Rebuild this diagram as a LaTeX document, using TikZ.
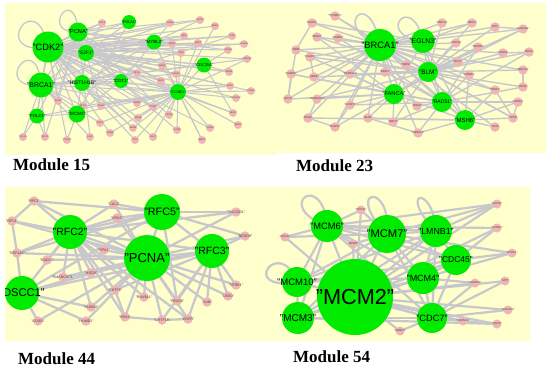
\documentclass[tikz,border=0pt]{standalone}
\usepackage{fontspec}
\setmainfont{Liberation Serif}
\setsansfont{Liberation Sans}
\definecolor{ybg}{RGB}{255,255,204}
\definecolor{gfill}{RGB}{0,235,0}
\definecolor{pfill}{RGB}{240,180,180}
\definecolor{egrey}{RGB}{200,200,204}
\definecolor{lgrey}{RGB}{70,70,70}
\newcommand\pinksA{a1/102/23/CDC6, a2/170/23/CCNB1, a3/200/20/CDC20, a4/215/26/BUB1, a5/184/36/RB1, a6/172/44/MCM2, a7/198/43/CDK1, a8/232/36/PLK1, a9/244/44/AURKA, a10/228/50/CCNA2, a11/181/53/TP53, a12/247/59/CDKN1A, a13/162/66/CHEK1, a14/176/74/CDC45, a15/229/72/MCM4, a16/161/81/ORC1, a17/137/73/RFC4, a18/230/86/E2F2, a19/251/91/CCND1, a20/236/98/CDKN2A, a21/137/103/RRM2, a22/153/107/TYMS, a23/169/115/TOP2A, a24/233/113/MCM7, a25/238/125/MKI67, a26/210/128/CCNE2, a27/133/128/MCM5, a28/138/118/MCM6, a29/177/130/GINS2, a30/153/137/CDC7, a31/202/140/WEE1, a32/135/140/DTL, a33/58/101/FEN1, a34/83/106/RFC2, a35/101/106/POLE, a36/100/123/RPA1, a37/110/133/PRIM1, a38/90/137/LIG1, a39/67/140/POLA2, a40/45/137/RFC3, a41/23/137/RFC5}
\newcommand\pinksB{b1/335/16/TP53BP1, b2/312/23/PARP1, b3/317/37/MSH2, b4/338/38/SUMO1, b5/296/50/NBN, b6/310/57/H2AFX, b7/291/74/SUMO2, b8/314/77/UBE2I, b9/350/74/RAD51L3, b10/385/72/BRIP1, b11/406/65/WRN, b12/288/99/ATRX, b13/317/99/HSP90AA1, b14/350/105/CASP3, b15/308/118/RPA3, b16/335/127/RAD50, b17/368/118/MLH1, b18/393/122/SMC3, b19/417/106/RNF8, b20/418/133/MRE11A, b21/442/23/SMC1A, b22/472/23/MDC1, b23/495/27/ATR, b24/523/29/FANCD2, b25/456/43/TOP2A, b26/478/47/TOPBP1, b27/503/53/TERF2, b28/529/52/RPA1, b29/458/62/RFC1, b30/469/75/SUMO3, b31/523/70/BRCC3, b32/523/87/RPA2, b33/495/90/TERF1, b34/518/102/CHEK1, b35/513/118/TP53, b36/495/127/ATM}
\newcommand\pinksC{c1/34/201/RFC1, c2/114/204/CUL3, c3/12/221/RFC4, c4/117/218/RPA2, c5/236/212/TSC22D1, c6/245/236/NEDD8, c7/17/253/EEF1A1, c8/47/260/RAD17, c9/104/250/RPA1, c10/63/277/SMARCAD1, c11/91/273/HSCB, c12/115/290/CHTF8, c13/144/297/RUVBL1, c14/177/301/FBXO6, c15/207/302/JUN, c16/228/296/LRDD, c17/236/285/NTRK1, c18/91/307/SUMO2, c19/86/321/HUWE1, c20/38/321/ATAD5, c21/125/317/RPA3, c22/162/320/CHTF18, c23/188/319/EGFR}
\newcommand\pinksD{d1/361/210/ORC3L, d2/497/204/ORC2L, d3/285/237/ORC4L, d4/353/244/MCM8, d5/497/228/CCND1, d6/512/253/NTRK1, d7/505/281/APP, d8/475/283/CDKN2A, d9/508/310/GOLGA2, d10/463/321/CDKN1A, d11/497/324/CDC6, d12/400/331/RBBP4}
\begin{document}
\begin{tikzpicture}[x=1pt,y=-1pt,
  edge/.style={draw=egrey, line width=#1},
  edge/.default=1pt,
  gn/.style={circle, fill=gfill, inner sep=0pt, minimum size=#1},
  pn/.style={circle, fill=pfill, inner sep=0pt, minimum size=#1},
  glab/.style={font=\sffamily\fontsize{#1}{#1}\selectfont, text=black, inner sep=0pt},
  plab/.style={font=\sffamily\fontsize{#1}{#1}\selectfont, text=lgrey, inner sep=0pt},
  modlab/.style={font=\bfseries\fontsize{17}{17}\selectfont, anchor=base west, inner sep=0pt}]
\useasboundingbox (0,0) rectangle (550,368);

% ---------------- Module 15 ----------------
\begin{scope}
\clip (5,3) rectangle (277,155);
\fill[ybg] (5,3) rectangle (277,155);
\foreach \nm/\x/\y in {aCDK2/48/47, aPCNA/78/32, aE2F1/86/53, aPOLA1/129/22, aMYBL2/154/42, aCDC25A/204/65, aBRCA1/41/85, aHIST/82/83, aCDT1/121/81, aCCNE1/178/92, aPOLD1/37/116, aMCM3/77/114}
  \coordinate (\nm) at (\x,\y);
\foreach \nm/\x/\y/\lab in \pinksA \coordinate (\nm) at (\x,\y);
\foreach \a/\b in {aCDK2/aPCNA, aCDK2/aE2F1, aCDK2/aBRCA1, aCDK2/aHIST, aCDK2/aCDT1, aCDK2/aCCNE1, aCDK2/aMYBL2, aCDK2/aCDC25A, aCDK2/aPOLA1, aCDK2/aPOLD1, aCDK2/aMCM3, aPCNA/aE2F1, aPCNA/aBRCA1, aPCNA/aPOLD1, aPCNA/aCDT1, aPCNA/aCCNE1, aPCNA/aMYBL2, aPCNA/aPOLA1, aE2F1/aCCNE1, aE2F1/aMYBL2, aE2F1/aCDC25A, aE2F1/aBRCA1, aE2F1/aHIST, aE2F1/aCDT1, aE2F1/aMCM3, aBRCA1/aHIST, aBRCA1/aCCNE1, aBRCA1/aPOLD1, aBRCA1/aMCM3, aBRCA1/aCDT1, aHIST/aCCNE1, aHIST/aCDT1, aCDT1/aCCNE1, aMCM3/aCDT1, aMCM3/aCCNE1, aPOLD1/aMCM3, aMYBL2/aCCNE1, aCDC25A/aCCNE1, aPOLA1/aMCM3, aPOLA1/aE2F1, aMYBL2/aBRCA1, aCDC25A/aBRCA1, aHIST/aMYBL2, aCDT1/aMYBL2, aPOLD1/aCCNE1}
  \draw[edge=1.1pt] (\a) -- (\b);
\foreach \p/\gl in {a1/{aPCNA,aCDK2,aE2F1}, a2/{aCDK2,aMYBL2,aE2F1}, a3/{aCDK2,aMYBL2,aPCNA}, a4/{aCDK2,aCCNE1}, a5/{aCDK2,aE2F1}, a6/{aCDK2,aMYBL2,aCCNE1}, a7/{aCDK2,aCCNE1,aE2F1}, a8/{aCDK2,aMYBL2,aHIST}, a9/{aCDK2,aE2F1}, a10/{aCDK2,aCDC25A,aPCNA}, a11/{aCDK2,aPCNA,aCCNE1}, a12/{aCCNE1,aCDK2,aBRCA1}, a13/{aCDK2,aE2F1,aCCNE1}, a14/{aCDK2,aCCNE1,aBRCA1}, a15/{aCDC25A,aCDK2,aE2F1}, a16/{aCDK2,aCCNE1,aPCNA}, a17/{aCDK2,aBRCA1,aE2F1}, a18/{aCCNE1,aCDK2,aHIST}, a19/{aCCNE1,aE2F1}, a20/{aCCNE1,aCDK2}, a21/{aCDK2,aCCNE1,aBRCA1}, a22/{aCCNE1,aE2F1,aCDK2}, a23/{aCCNE1,aPCNA}, a24/{aCCNE1,aCDC25A,aCDK2}, a25/{aCCNE1}, a26/{aCCNE1,aCDK2}, a27/{aCCNE1,aCDK2,aHIST}, a28/{aCDK2,aCCNE1}, a29/{aCCNE1,aE2F1}, a30/{aCCNE1,aCDK2}, a31/{aCCNE1,aMYBL2}, a32/{aCDK2,aCCNE1}, a33/{aCDK2,aBRCA1,aPCNA}, a34/{aCDK2,aBRCA1,aCCNE1}, a35/{aCDK2,aE2F1,aCCNE1}, a36/{aBRCA1,aCCNE1}, a37/{aCDK2,aCCNE1}, a38/{aPCNA,aBRCA1}, a39/{aCDK2,aMCM3}, a40/{aPCNA,aBRCA1,aPOLD1}, a41/{aPOLD1,aBRCA1}}
  {\foreach \g in \gl {\draw[edge=1.1pt] (\p) -- (\g);}}
\draw[edge=1.3pt] (aCDK2) .. controls +(-60,10) and +(-12,-63) .. (aCDK2);
\draw[edge=1.3pt] (aPCNA) .. controls +(-40,2) and +(-3,-50) .. (aPCNA);
\draw[edge=1.3pt] (aBRCA1) .. controls +(-52,5) and +(-4,-58) .. (aBRCA1);
\foreach \nm/\x/\y/\lab in \pinksA
  \node[pn=8, label={[plab=2.2]center:"\lab"}] (n\nm) at (\nm) {};
\node[gn=31, label={[glab=9.2]center:"CDK2"}] (nCDK2a) at (aCDK2) {};
\node[gn=19, label={[glab=5.7]center:"PCNA"}] (nPCNAa) at (aPCNA) {};
\node[gn=16, label={[glab=4.8]center:"E2F1"}] (nE2F1a) at (aE2F1) {};
\node[gn=14, label={[glab=3.7]center:"POLA1"}] (nPOLA1a) at (aPOLA1) {};
\node[gn=15, label={[glab=4.5]center:"MYBL2"}] (nMYBL2a) at (aMYBL2) {};
\node[gn=15, label={[glab=3.9]center:"CDC25A"}] (nCDC25Aa) at (aCDC25A) {};
\node[gn=25, label={[glab=6.9]center:"BRCA1"}] (nBRCA1a) at (aBRCA1) {};
\node[gn=16, label={[glab=5.1]center:"HIST1H1B"}] (nHISTa) at (aHIST) {};
\node[gn=14, label={[glab=4.5]center:"CDT1"}] (nCDT1a) at (aCDT1) {};
\node[gn=16, label={[glab=3.7]center:"CCNE1"}] (nCCNE1a) at (aCCNE1) {};
\node[gn=15, label={[glab=4.3]center:"POLD1"}] (nPOLD1a) at (aPOLD1) {};
\node[gn=17, label={[glab=4.6]center:"MCM3"}] (nMCM3a) at (aMCM3) {};
\end{scope}

% ---------------- Module 23 ----------------
\begin{scope}
\clip (275,3) rectangle (546,153);
\fill[ybg] (275,3) rectangle (546,153);
\foreach \nm/\x/\y in {bBRCA1/380/45, bEGLN3/423/41, bBLM/428/72, bFANCA/394/94, bRAD51/442/102, bMSH6/465/120}
  \coordinate (\nm) at (\x,\y);
\foreach \nm/\x/\y/\lab in \pinksB \coordinate (\nm) at (\x,\y);
\foreach \a/\b in {bBRCA1/bEGLN3, bBRCA1/bBLM, bBRCA1/bFANCA, bBRCA1/bRAD51, bBRCA1/bMSH6, bEGLN3/bBLM, bBLM/bFANCA, bBLM/bRAD51, bBLM/bMSH6, bFANCA/bRAD51, bFANCA/bMSH6, bRAD51/bMSH6, bEGLN3/bFANCA, bEGLN3/bRAD51, bEGLN3/bMSH6, b5/b12, b7/b12, b13/b15, b15/b16, b2/b5, b20/b17, b23/b24, b27/b28, b33/b35, b34/b35, b31/b32, b6/b8, b14/b16}
  \draw[edge=1.4pt] (\a) -- (\b);
\foreach \p/\gl in {b1/{bBRCA1,bBLM}, b2/{bBRCA1,bEGLN3}, b3/{bBRCA1,bBLM,bFANCA}, b4/{bBRCA1,bRAD51}, b5/{bBRCA1,bBLM}, b6/{bBRCA1,bFANCA,bBLM}, b7/{bBRCA1,bFANCA,bRAD51}, b8/{bBRCA1,bBLM}, b9/{bBRCA1,bFANCA,bBLM}, b10/{bBRCA1,bBLM,bRAD51}, b11/{bBRCA1,bBLM}, b12/{bFANCA,bBRCA1}, b13/{bFANCA,bBLM,bBRCA1}, b14/{bFANCA,bBRCA1,bRAD51}, b15/{bBRCA1,bMSH6}, b16/{bFANCA,bBRCA1}, b17/{bBRCA1,bFANCA,bMSH6}, b18/{bFANCA,bBLM,bRAD51}, b19/{bBRCA1,bRAD51}, b20/{bRAD51,bBRCA1,bMSH6}, b21/{bBRCA1,bBLM}, b22/{bBRCA1,bEGLN3,bBLM}, b23/{bBLM,bBRCA1}, b24/{bBLM,bFANCA,bBRCA1}, b25/{bBRCA1,bBLM}, b26/{bBLM,bRAD51,bFANCA}, b27/{bBLM,bBRCA1}, b28/{bBLM,bRAD51}, b29/{bBRCA1,bBLM}, b30/{bBRCA1,bRAD51,bMSH6}, b31/{bBLM,bBRCA1}, b32/{bBLM,bRAD51}, b33/{bMSH6,bBLM,bBRCA1}, b34/{bRAD51,bMSH6}, b35/{bBRCA1,bMSH6,bBLM}, b36/{bMSH6,bBRCA1}}
  {\foreach \g in \gl {\draw[edge=1.4pt] (\p) -- (\g);}}
\draw[edge=1.6pt] (bBRCA1) .. controls +(-50,-15) and +(-11,-62) .. (bBRCA1);
\draw[edge=1.6pt] (bEGLN3) .. controls +(-50,-5) and +(-11,-51) .. (bEGLN3);
\foreach \nm/\x/\y/\lab in \pinksB
  \node[pn=9.5, label={[plab=2.8]center:"\lab"}] (n\nm) at (\nm) {};
\node[gn=32, label={[glab=9.3]center:"BRCA1"}] (nBRCA1b) at (bBRCA1) {};
\node[gn=24, label={[glab=6.8]center:"EGLN3"}] (nEGLN3b) at (bEGLN3) {};
\node[gn=20, label={[glab=6.4]center:"BLM"}] (nBLMb) at (bBLM) {};
\node[gn=20, label={[glab=5.7]center:"FANCA"}] (nFANCAb) at (bFANCA) {};
\node[gn=20, label={[glab=5.1]center:"RAD51"}] (nRAD51b) at (bRAD51) {};
\node[gn=20, label={[glab=6]center:"MSH6"}] (nMSH6b) at (bMSH6) {};
\end{scope}

% ---------------- Module 44 ----------------
\begin{scope}
\clip (5,187) rectangle (272,341);
\fill[ybg] (5,187) rectangle (272,341);
\foreach \nm/\x/\y in {cRFC2/70/232, cPCNA/147/258, cRFC5/162/212, cRFC3/212/251, cDSCC1/22/293}
  \coordinate (\nm) at (\x,\y);
\foreach \nm/\x/\y/\lab in \pinksC \coordinate (\nm) at (\x,\y);
\foreach \a/\b in {cRFC2/cPCNA, cRFC2/cRFC5, cRFC2/cRFC3, cRFC2/cDSCC1, cPCNA/cRFC5, cPCNA/cRFC3, cPCNA/cDSCC1, cRFC5/cRFC3, cRFC5/cDSCC1, cRFC3/cDSCC1}
  \draw[edge=2.3pt] (\a) -- (\b);
\foreach \p/\gl in {c1/{cRFC5,cRFC2,cPCNA,c3}, c2/{cRFC5,cRFC2,cPCNA}, c3/{c7,cRFC2,cPCNA}, c4/{cRFC2,cPCNA,cRFC5}, c5/{cRFC5,cPCNA,cRFC2}, c6/{cRFC3,cPCNA,cRFC5}, c7/{cRFC2,cDSCC1,cPCNA,cRFC5}, c8/{cRFC2,cPCNA}, c9/{cRFC2,cPCNA}, c10/{cPCNA,cRFC2,cRFC3}, c11/{cPCNA,cRFC2,cDSCC1}, c12/{cPCNA,cRFC3,cRFC2,c21}, c13/{cPCNA,cRFC2}, c14/{cPCNA,cRFC3,cRFC5}, c15/{cRFC3,cPCNA}, c16/{cRFC3,cPCNA}, c17/{cRFC3,cPCNA}, c18/{cPCNA,cDSCC1,cRFC2}, c19/{cPCNA,cDSCC1}, c20/{cDSCC1,cPCNA}, c21/{cPCNA,cRFC2,c22}, c22/{cPCNA,cRFC3,c23}, c23/{cPCNA,cRFC3,cRFC2}}
  {\foreach \g in \gl {\draw[edge=2.3pt] (\p) -- (\g);}}
\foreach \nm/\x/\y/\lab in \pinksC
  \node[pn=9.5, label={[plab=3.6]center:"\lab"}] (n\nm) at (\nm) {};
\node[gn=34, label={[glab=10.5]center:"RFC2"}] (nRFC2c) at (cRFC2) {};
\node[gn=46, label={[glab=13]center:"PCNA"}] (nPCNAc) at (cPCNA) {};
\node[gn=36, label={[glab=10.8]center:"RFC5"}] (nRFC5c) at (cRFC5) {};
\node[gn=34, label={[glab=10.5]center:"RFC3"}] (nRFC3c) at (cRFC3) {};
\node[gn=34, label={[glab=11.2]center:"DSCC1"}] (nDSCC1c) at (cDSCC1) {};
\end{scope}

% ---------------- Module 54 ----------------
\begin{scope}
\clip (262,187) rectangle (530,341);
\fill[ybg] (262,187) rectangle (530,341);
\foreach \nm/\x/\y in {dMCM6/327/226, dMCM7/387/234, dLMNB1/436/231, dCDC45/456/260, dMCM4/423/278, dMCM10/297/282, dMCM2/355/297, dMCM3/298/318, dCDC7/432/318}
  \coordinate (\nm) at (\x,\y);
\foreach \nm/\x/\y/\lab in \pinksD \coordinate (\nm) at (\x,\y);
\foreach \a/\b in {dMCM6/dMCM7, dMCM6/dLMNB1, dMCM6/dCDC45, dMCM6/dMCM4, dMCM6/dMCM10, dMCM6/dMCM2, dMCM6/dMCM3, dMCM6/dCDC7, dMCM7/dLMNB1, dMCM7/dCDC45, dMCM7/dMCM4, dMCM7/dMCM10, dMCM7/dMCM2, dMCM7/dMCM3, dMCM7/dCDC7, dLMNB1/dCDC45, dLMNB1/dMCM4, dLMNB1/dMCM10, dLMNB1/dMCM2, dLMNB1/dMCM3, dLMNB1/dCDC7, dCDC45/dMCM4, dCDC45/dMCM10, dCDC45/dMCM2, dCDC45/dMCM3, dCDC45/dCDC7, dMCM4/dMCM10, dMCM4/dMCM2, dMCM4/dMCM3, dMCM4/dCDC7, dMCM10/dMCM2, dMCM10/dMCM3, dMCM10/dCDC7, dMCM2/dMCM3, dMCM2/dCDC7, dMCM3/dCDC7}
  \draw[edge=2.2pt] (\a) -- (\b);
\foreach \p/\gl in {d1/{dMCM6,dMCM7,dMCM2}, d2/{dMCM6,dMCM7,dMCM2,dLMNB1}, d3/{dMCM6,dMCM2,dMCM7}, d4/{dMCM6,dMCM2,dMCM7}, d5/{dMCM2,dMCM6,dCDC45}, d6/{dMCM2,dCDC45,dMCM7}, d7/{dMCM2,dCDC7}, d8/{dMCM2,dCDC7,dMCM4}, d9/{dMCM2,dCDC7}, d10/{dCDC7,dMCM2}, d11/{dCDC7,dMCM2,dMCM3}, d12/{dMCM2,dCDC7}}
  {\foreach \g in \gl {\draw[edge=2.2pt] (\p) -- (\g);}}
\draw[edge=2.2pt] (dMCM6) .. controls +(-55,-20) and +(-4,-57) .. (dMCM6);
\draw[edge=2.2pt] (dMCM7) .. controls +(-45,-45) and +(5,-54) .. (dMCM7);
\draw[edge=2.2pt] (dLMNB1) .. controls +(-40,-40) and +(-3,-48) .. (dLMNB1);
\draw[edge=2.2pt] (dMCM10) .. controls +(-60,10) and +(-17,-47) .. (dMCM10);
\foreach \nm/\x/\y/\lab in \pinksD
  \node[pn=9, label={[plab=2.8]center:"\lab"}] (n\nm) at (\nm) {};
\node[gn=32, label={[glab=9.3]center:"MCM6"}] (nMCM6d) at (dMCM6) {};
\node[gn=38, label={[glab=11.2]center:"MCM7"}] (nMCM7d) at (dMCM7) {};
\node[gn=32, label={[glab=8.8]center:"LMNB1"}] (nLMNB1d) at (dLMNB1) {};
\node[gn=30, label={[glab=8.5]center:"CDC45"}] (nCDC45d) at (dCDC45) {};
\node[gn=32, label={[glab=9]center:"MCM4"}] (nMCM4d) at (dMCM4) {};
\node[gn=30, label={[glab=9.5]center:"MCM10"}] (nMCM10d) at (dMCM10) {};
\node[gn=76, label={[glab=21.7]center:"MCM2"}] (nMCM2d) at (dMCM2) {};
\node[gn=32, label={[glab=10]center:"MCM3"}] (nMCM3d) at (dMCM3) {};
\node[gn=30, label={[glab=9.2]center:"CDC7"}] (nCDC7d) at (dCDC7) {};
\end{scope}

% ---------------- captions ----------------
\node[modlab] (m15) at (13,170) {Module 15};
\node[modlab] (m23) at (296,171) {Module 23};
\node[modlab] (m44) at (18,364) {Module 44};
\node[modlab] (m54) at (293,362) {Module 54};
\end{tikzpicture}
\end{document}
